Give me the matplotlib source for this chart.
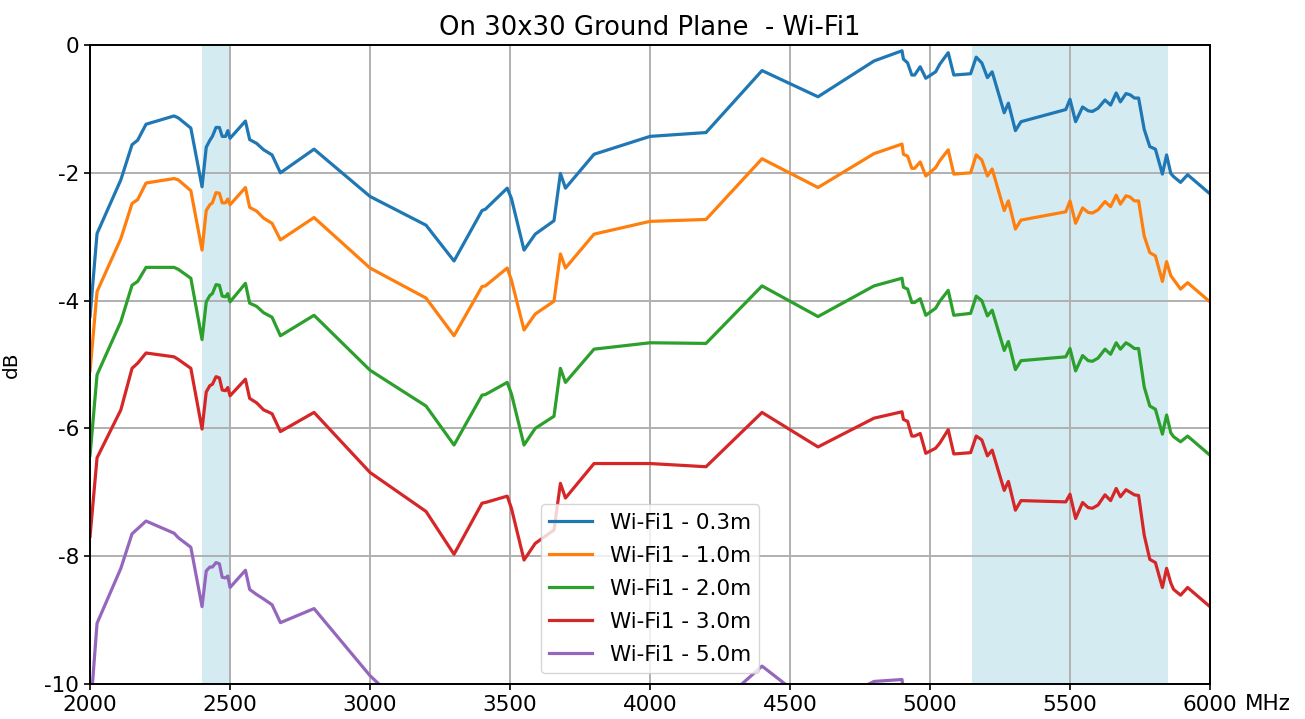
import matplotlib
matplotlib.use("Agg")
import matplotlib.pyplot as plt

freq = [2000, 2025, 2110, 2150, 2170, 2200, 2300, 2315, 2360, 2400,
        2415, 2428, 2437, 2450, 2462, 2472, 2484, 2492, 2500, 2555,
        2570, 2595, 2620, 2650, 2680, 2800, 3000, 3200, 3300, 3400,
        3412, 3490, 3505, 3550, 3590, 3657, 3680, 3698, 3800, 4000,
        4200, 4400, 4600, 4800, 4900, 4905, 4920, 4935, 4945, 4965,
        4985, 5020, 5035, 5065, 5085, 5145, 5165, 5185, 5205, 5222,
        5265, 5280, 5305, 5325, 5485, 5500, 5520, 5545, 5565, 5580,
        5600, 5625, 5645, 5665, 5680, 5700, 5715, 5730, 5745, 5765,
        5785, 5805, 5830, 5845, 5860, 5870, 5895, 5920, 6000]

wifi_03m = [-4.25, -2.95, -2.11, -1.56, -1.49, -1.24, -1.11, -1.14, -1.30, -2.22,
            -1.60, -1.49, -1.43, -1.29, -1.29, -1.43, -1.43, -1.34, -1.46, -1.19,
            -1.48, -1.54, -1.64, -1.72, -2.00, -1.63, -2.37, -2.82, -3.38, -2.59,
            -2.57, -2.24, -2.40, -3.21, -2.96, -2.75, -2.01, -2.24, -1.71, -1.43,
            -1.37, -0.40, -0.81, -0.25, -0.09, -0.22, -0.28, -0.47, -0.47, -0.34,
            -0.52, -0.42, -0.30, -0.12, -0.47, -0.45, -0.19, -0.28, -0.51, -0.42,
            -1.06, -0.91, -1.34, -1.20, -1.01, -0.85, -1.20, -0.97, -1.03, -1.04,
            -0.99, -0.86, -0.94, -0.75, -0.89, -0.76, -0.78, -0.83, -0.83, -1.32,
            -1.59, -1.63, -2.02, -1.72, -2.01, -2.06, -2.15, -2.03, -2.33]

wifi_10m = [-5.10, -3.86, -3.03, -2.48, -2.42, -2.16, -2.09, -2.11, -2.28, -3.21,
            -2.59, -2.50, -2.47, -2.31, -2.32, -2.47, -2.47, -2.41, -2.50, -2.23,
            -2.54, -2.60, -2.71, -2.79, -3.05, -2.70, -3.49, -3.96, -4.55, -3.78,
            -3.77, -3.49, -3.68, -4.46, -4.21, -4.01, -3.27, -3.49, -2.96, -2.76,
            -2.73, -1.78, -2.23, -1.70, -1.55, -1.71, -1.74, -1.93, -1.93, -1.83,
            -2.05, -1.92, -1.81, -1.64, -2.02, -2.00, -1.72, -1.80, -2.05, -1.94,
            -2.59, -2.44, -2.88, -2.74, -2.61, -2.44, -2.79, -2.55, -2.62, -2.63,
            -2.58, -2.45, -2.53, -2.35, -2.49, -2.36, -2.38, -2.44, -2.44, -2.99,
            -3.25, -3.30, -3.70, -3.39, -3.61, -3.67, -3.82, -3.72, -4.02]

wifi_20m = [-6.42, -5.16, -4.33, -3.76, -3.70, -3.48, -3.48, -3.51, -3.65, -4.61,
            -4.02, -3.92, -3.89, -3.75, -3.76, -3.93, -3.94, -3.89, -4.02, -3.73,
            -4.04, -4.09, -4.19, -4.26, -4.55, -4.23, -5.09, -5.65, -6.26, -5.48,
            -5.47, -5.28, -5.46, -6.26, -6.00, -5.81, -5.06, -5.28, -4.76, -4.66,
            -4.67, -3.77, -4.25, -3.77, -3.65, -3.79, -3.82, -4.03, -4.03, -3.97,
            -4.23, -4.12, -4.01, -3.84, -4.23, -4.20, -3.93, -4.00, -4.24, -4.15,
            -4.78, -4.64, -5.08, -4.94, -4.88, -4.75, -5.10, -4.86, -4.94, -4.95,
            -4.90, -4.76, -4.84, -4.66, -4.76, -4.66, -4.70, -4.75, -4.75, -5.35,
            -5.65, -5.70, -6.09, -5.79, -6.07, -6.13, -6.21, -6.12, -6.42]

wifi_30m = [-7.69, -6.46, -5.71, -5.06, -4.98, -4.82, -4.88, -4.92, -5.06, -6.01,
            -5.43, -5.33, -5.31, -5.19, -5.21, -5.40, -5.41, -5.36, -5.49, -5.23,
            -5.53, -5.60, -5.71, -5.77, -6.05, -5.75, -6.69, -7.30, -7.97, -7.17,
            -7.16, -7.06, -7.25, -8.06, -7.80, -7.59, -6.86, -7.09, -6.55, -6.55,
            -6.60, -5.75, -6.29, -5.84, -5.74, -5.86, -5.89, -6.12, -6.12, -6.08,
            -6.39, -6.31, -6.23, -6.02, -6.40, -6.38, -6.12, -6.18, -6.43, -6.34,
            -6.97, -6.83, -7.28, -7.13, -7.15, -7.03, -7.41, -7.16, -7.24, -7.25,
            -7.20, -7.04, -7.13, -6.94, -7.07, -6.96, -7.00, -7.04, -7.05, -7.67,
            -8.05, -8.10, -8.49, -8.19, -8.42, -8.52, -8.61, -8.49, -8.79]

wifi_50m = [-10.5, -9.05, -8.19, -7.65, -7.57, -7.45, -7.64, -7.71, -7.86, -8.79,
            -8.23, -8.17, -8.17, -8.10, -8.12, -8.33, -8.34, -8.31, -8.49, -8.22,
            -8.52, -8.60, -8.67, -8.76, -9.04, -8.82, -9.87, -10.7, -11.5, -10.9,
            -10.9, -10.7, -10.9, -11.8, -11.5, -11.4, -10.7, -10.9, -10.5, -10.4,
            -10.5, -9.72, -10.4, -9.96, -9.93, -10.1, -10.15, -10.35, -10.35, -10.25,
            -10.5, -10.4, -10.3, -10.15, -10.5, -10.5, -10.25, -10.33, -10.57, -10.48,
            -11.1, -11.0, -11.4, -11.3, -11.2, -11.05, -11.4, -11.2, -11.25, -11.25,
            -11.2, -11.05, -11.15, -10.95, -11.1, -10.95, -11.0, -11.05, -11.05, -11.6,
            -11.9, -11.95, -12.35, -12.05, -12.3, -12.35, -12.45, -12.35, -12.65]

series = [("Wi-Fi1 - 0.3m", wifi_03m), ("Wi-Fi1 - 1.0m", wifi_10m),
          ("Wi-Fi1 - 2.0m", wifi_20m), ("Wi-Fi1 - 3.0m", wifi_30m),
          ("Wi-Fi1 - 5.0m", wifi_50m)]

bands = [(2400, 2500), (5150, 5850)]

FS = 15.5
plt.rcParams['font.family'] = ['DejaVu Sans']
plt.rcParams['font.size'] = FS
plt.rcParams['axes.unicode_minus'] = False

fig = plt.figure(figsize=(13.05, 7.19), dpi=100)
ax = fig.add_axes([0.069, 0.0487, 0.8582, 0.8887])

for lo, hi in bands:
    ax.axvspan(lo, hi, color='lightblue', alpha=0.5, lw=0)

for name, vals in series:
    ax.plot(freq, vals, lw=2.3, label=name)

ax.set_xlim(2000, 6000)
ax.set_ylim(-10, 0)
ax.set_xticks([2000, 2500, 3000, 3500, 4000, 4500, 5000, 5500, 6000])
ax.set_yticks([-10, -8, -6, -4, -2, 0])
ax.grid(True, color='#b0b0b0', lw=1.4)
ax.tick_params(labelsize=FS, width=1.2, length=4.5)
for s in ax.spines.values():
    s.set_linewidth(1.4)

ax.set_title("On 30x30 Ground Plane  - Wi-Fi1", fontsize=FS * 1.2, pad=7)
ax.set_ylabel("dB", fontsize=FS - 1)
ax.yaxis.set_label_coords(-0.062, 0.5)
ax.annotate("MHz", xy=(1, 0), xycoords='axes fraction', xytext=(35, -10),
            textcoords='offset pixels', ha='left', va='top', fontsize=FS)
ax.legend(loc='lower center', fontsize=FS, handlelength=2.0, labelspacing=0.6)

fig.savefig("out.png", dpi=100)
